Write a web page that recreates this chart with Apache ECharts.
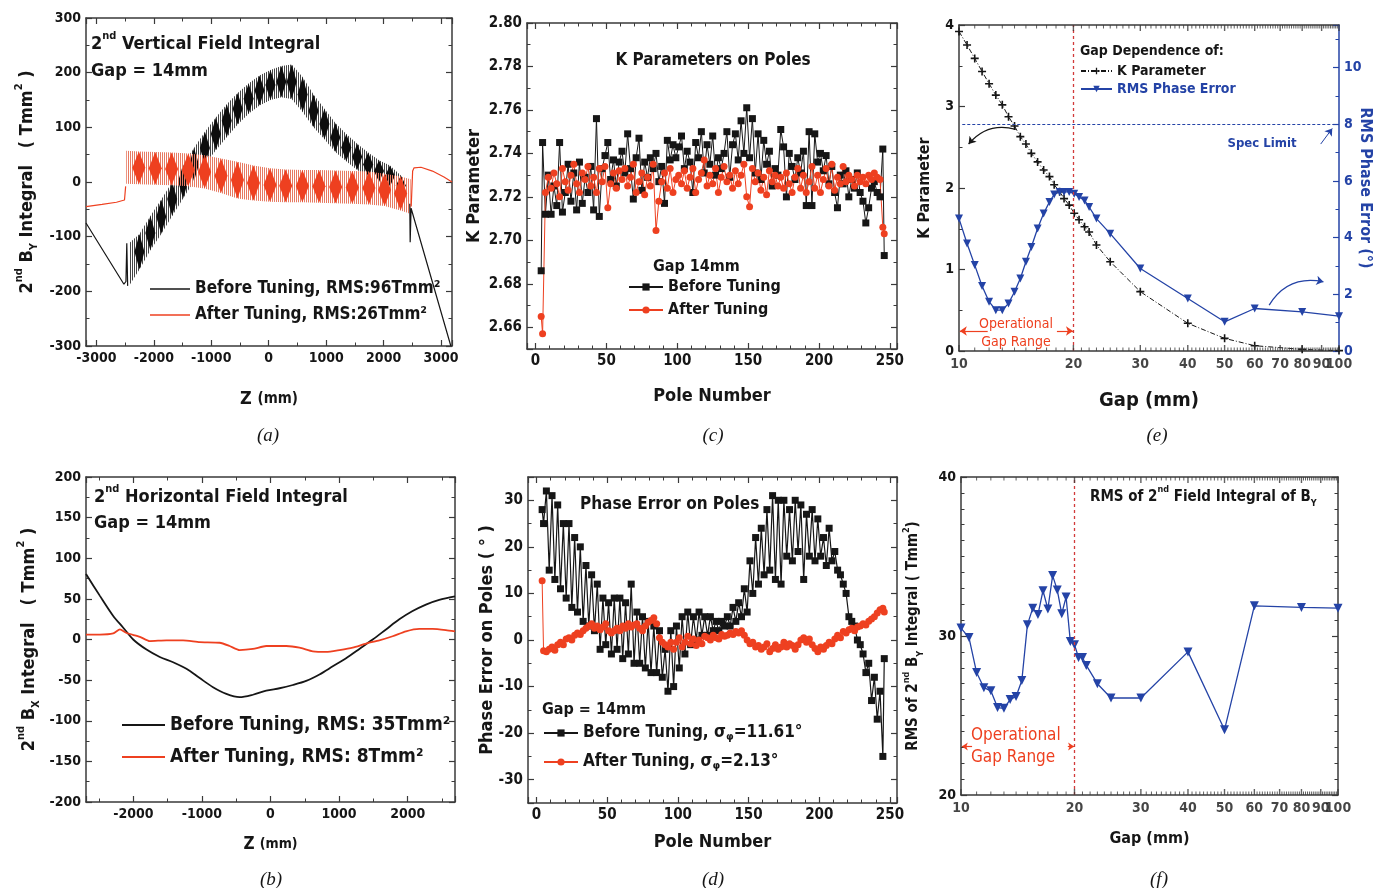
<!DOCTYPE html>
<html>
<head>
<meta charset="utf-8">
<script src="https://cdn.jsdelivr.net/npm/echarts@6.0.0/dist/echarts.min.js"></script>
<style>
html, body { margin: 0; padding: 0; background: #fff; }
#main { width: 1374px; height: 888px; }
</style>
</head>
<body>
<div id="main"></div>
<script>
// ---- (a) 2nd vertical field integral: thin end segments + oscillating bands [z, low, high]
var A_BEFORE_LEFT = [[-3180, -75], [-2520, -187], [-2485, -182], [-2470, -112], [-2455, -190]];
var A_BEFORE_RIGHT = [[2455, -40], [2462, -110], [2478, -48], [3170, -300]];
var A_AFTER_LEFT = [[-3180, -45], [-2900, -41], [-2650, -37], [-2510, -33], [-2490, -8]];
var A_AFTER_RIGHT = [[2480, -45], [2505, 20], [2530, 26], [2650, 27], [2850, 20], [3050, 9], [3190, 0]];
var A_BEFORE_BAND = [
  [-2430, -190, -112], [-2250, -160, -95], [-2060, -125, -62], [-1870, -95, -32], [-1680, -62, 0],
  [-1490, -30, 32], [-1300, 2, 62], [-1110, 32, 92], [-920, 58, 118], [-730, 82, 142],
  [-540, 105, 163], [-350, 125, 180], [-160, 140, 195], [30, 150, 205], [220, 155, 212],
  [400, 152, 215], [590, 128, 192], [780, 100, 160], [970, 78, 134], [1160, 55, 108],
  [1350, 38, 88], [1540, 22, 70], [1730, 10, 54], [1920, 0, 40], [2110, -8, 30],
  [2300, -25, 12], [2450, -60, -25]
];
var A_AFTER_BAND = [
  [-2480, -3, 57], [-2260, -4, 56], [-1975, -5, 55], [-1690, -6, 54], [-1400, -8, 52],
  [-1115, -12, 49], [-830, -20, 43], [-544, -30, 37], [-266, -34, 30], [23, -36, 25],
  [296, -37, 23], [586, -37, 22], [875, -38, 22], [1165, -39, 21], [1455, -40, 20],
  [1744, -41, 19], [2017, -44, 15], [2295, -52, 10], [2470, -58, 5]
];

// ---- (b) 2nd horizontal field integral
var B_Z = [-2690, -2487, -2293, -2147, -2002, -1808, -1614, -1420, -1226, -1032,
  -838, -644, -450, -256, -62, 132, 326, 520, 714, 908,
  1102, 1296, 1490, 1684, 1878, 2072, 2266, 2460, 2690];
var B_BEFORE = [80.6, 53.7, 29, 14.5, 0, -12.4, -21.5, -28, -36, -47.5,
  -58.7, -67, -71, -68, -63, -60, -56, -51, -43, -33,
  -23, -11.6, 0, 12.4, 24.8, 35, 43, 48.8, 53];
var B_Z2 = [-2690, -2487, -2293, -2195, -2099, -1905, -1760, -1517, -1275, -1032,
  -741, -596, -450, -256, -62, 229, 423, 617, 811, 1005,
  1199, 1393, 1587, 1781, 1975, 2169, 2363, 2557, 2690];
var B_AFTER = [6, 6, 7.4, 12.4, 8, 3.3, -2, -1, -1, -3.3,
  -4, -8, -13, -11.6, -8, -8, -10, -14.5, -15.3, -13,
  -10, -5, -1, 4, 10, 13, 13, 11.6, 10];

// ---- (c), (d) values per pole
var POLES = [4, 5, 7, 9, 11, 13, 15, 17, 19, 21,
  23, 25, 27, 29, 31, 33, 35, 37, 39, 41,
  43, 45, 47, 49, 51, 53, 55, 57, 59, 61,
  63, 65, 67, 69, 71, 73, 75, 77, 79, 81,
  83, 85, 87, 89, 91, 93, 95, 97, 99, 101,
  103, 105, 107, 109, 111, 113, 115, 117, 119, 121,
  123, 125, 127, 129, 131, 133, 135, 137, 139, 141,
  143, 145, 147, 149, 151, 153, 155, 157, 159, 161,
  163, 165, 167, 169, 171, 173, 175, 177, 179, 181,
  183, 185, 187, 189, 191, 193, 195, 197, 199, 201,
  203, 205, 207, 209, 211, 213, 215, 217, 219, 221,
  223, 225, 227, 229, 231, 233, 235, 237, 239, 241,
  243, 245, 246];
var K_BEFORE = [2.686, 2.745, 2.712, 2.730, 2.712, 2.725, 2.716, 2.745, 2.713, 2.722,
  2.735, 2.718, 2.731, 2.714, 2.736, 2.717, 2.729, 2.722, 2.734, 2.714,
  2.756, 2.711, 2.733, 2.739, 2.745, 2.728, 2.737, 2.725, 2.736, 2.741,
  2.731, 2.749, 2.733, 2.719, 2.738, 2.747, 2.723, 2.736, 2.729, 2.738,
  2.733, 2.740, 2.727, 2.734, 2.717, 2.746, 2.737, 2.744, 2.738, 2.743,
  2.748, 2.733, 2.741, 2.736, 2.722, 2.745, 2.738, 2.750, 2.731, 2.744,
  2.735, 2.748, 2.730, 2.738, 2.733, 2.740, 2.750, 2.729, 2.744, 2.749,
  2.737, 2.755, 2.740, 2.761, 2.738, 2.756, 2.731, 2.749, 2.728, 2.746,
  2.735, 2.741, 2.725, 2.733, 2.730, 2.751, 2.743, 2.720, 2.740, 2.734,
  2.728, 2.738, 2.731, 2.741, 2.716, 2.750, 2.716, 2.749, 2.736, 2.740,
  2.732, 2.739, 2.726, 2.734, 2.722, 2.715, 2.730, 2.726, 2.732, 2.720,
  2.728, 2.724, 2.731, 2.722, 2.718, 2.708, 2.715, 2.724, 2.727, 2.722,
  2.720, 2.742, 2.693];
var K_AFTER = [2.665, 2.657, 2.722, 2.729, 2.724, 2.731, 2.726, 2.720, 2.733, 2.727,
  2.723, 2.730, 2.735, 2.726, 2.722, 2.731, 2.728, 2.734, 2.725, 2.729,
  2.722, 2.733, 2.727, 2.734, 2.715, 2.726, 2.731, 2.724, 2.732, 2.728,
  2.733, 2.725, 2.729, 2.735, 2.722, 2.727, 2.731, 2.721, 2.729, 2.725,
  2.735, 2.7045, 2.718, 2.727, 2.731, 2.724, 2.733, 2.722, 2.728, 2.730,
  2.726, 2.732, 2.724, 2.729, 2.733, 2.722, 2.728, 2.731, 2.737, 2.725,
  2.730, 2.726, 2.733, 2.722, 2.729, 2.734, 2.727, 2.730, 2.724, 2.732,
  2.726, 2.730, 2.735, 2.720, 2.7155, 2.733, 2.727, 2.731, 2.723, 2.729,
  2.721, 2.732, 2.727, 2.730, 2.725, 2.729, 2.724, 2.731, 2.726, 2.722,
  2.729, 2.733, 2.724, 2.730, 2.722, 2.727, 2.734, 2.724, 2.730, 2.722,
  2.728, 2.733, 2.725, 2.735, 2.723, 2.729, 2.726, 2.734, 2.727, 2.730,
  2.728, 2.725, 2.730, 2.727, 2.729, 2.726, 2.730, 2.728, 2.731, 2.729,
  2.728, 2.706, 2.703];
var PH_BEFORE = [28, 25, 32, 15, 31, 13, 29, 11, 25, 9,
  25, 7, 22, 6, 20, 4, 16, 3, 14, 2,
  12, -2, 9, -1, 8, -3, 9, -2, 9, -4,
  8, -3, 12, -5, 6, -5, 5, -6, 4, -7,
  3, -7, 2, -8, -2, -11, 2, -10, 3, -6,
  5, -3, 6, -1, 5, 0, 6, 1, 5, 1,
  5, 2, 4, 2, 4, 3, 5, 3, 7, 4,
  8, 5, 11, 6, 17, 10, 22, 12, 24, 14,
  28, 15, 31, 13, 30, 12, 30, 18, 28, 17,
  30, 19, 29, 13, 27, 18, 28, 17, 26, 18,
  22, 16, 24, 17, 19, 15, 14, 12, 10, 5,
  4, 3, 0, -1, -3, -7, -5, -13, -8, -17,
  -11, -25, -4];
var PH_AFTER = [12.7, -2.3, -2.5, -2.0, -1.5, -2.2, -1.0, -0.5, -1.0, 0.2,
  0.5, 0.0, 1.0, 1.5, 1.2, 2.0, 2.5, 3.0, 3.5, 2.5,
  3.0, 2.2, 2.8, 3.5, 2.0, 1.5, 2.0, 2.5, 2.0, 3.0,
  2.5, 3.5, 2.8, 3.2, 3.5, 2.5, 2.0, 3.0, 3.8, 4.2,
  4.8, 3.5, 0.5, -0.5, -1.0, -1.5, -0.5, -2.0, -0.5, 0.5,
  -1.5, -0.5, 0.8, -0.8, 0.2, -1.2, 0.0, -0.8, 0.8, 0.5,
  0.0, 1.0, 0.5, 0.2, 1.2, 0.8, 1.0, 1.5, 1.2, 1.8,
  1.5, 2.0, 1.0, 0.0, -0.8, -0.5, -1.5, -1.2, -2.0, -1.5,
  -0.8, -2.5, -1.8, -1.0, -2.0, -1.5, -0.5, -1.5, -0.8, -1.2,
  -2.0, -1.0, 0.0, 0.5, -0.5, 0.2, -1.0, -1.8, -2.5, -1.5,
  -2.0, -1.2, -0.5, -0.8, 0.2, 1.0, 0.5, 1.8, 1.5, 2.2,
  2.5, 2.0, 2.8, 3.0, 3.5, 3.2, 4.0, 4.5, 5.0, 5.8,
  6.5, 6.8, 6.0];

// ---- (e) gap dependence
var GAP_E = [10, 10.5, 11, 11.5, 12, 12.5, 13, 13.5, 14, 14.5,
  15, 15.5, 16.1, 16.7, 17.3, 17.8, 18.4, 18.9, 19.5, 20.1,
  20.7, 21.4, 22, 23, 25, 30, 40, 50, 60, 80, 100];
var K_GAP = [3.92, 3.755, 3.59, 3.43, 3.28, 3.14, 3.02, 2.875, 2.76, 2.63,
  2.54, 2.425, 2.32, 2.22, 2.14, 2.04, 1.955, 1.87, 1.79, 1.69,
  1.61, 1.525, 1.46, 1.30, 1.096, 0.728, 0.34, 0.155, 0.065, 0.02, 0.005];
var PHASE_GAP = [4.67, 3.79, 3.03, 2.29, 1.74, 1.44, 1.44, 1.68, 2.09, 2.56,
  3.15, 3.67, 4.32, 4.85, 5.26, 5.52, 5.61, 5.61, 5.61, 5.55,
  5.43, 5.31, 5.08, 4.67, 4.14, 2.91, 1.85, 1.03, 1.50, 1.38, 1.23];

// ---- (f) RMS of 2nd field integral
var GAP_F = [10, 10.5, 11, 11.5, 12, 12.5, 13, 13.5, 14, 14.5,
  15, 15.5, 16, 16.5, 17, 17.5, 18, 18.5, 19, 19.5,
  20, 20.5, 21, 21.5, 23, 25, 30, 40, 50, 60, 80, 100];
var RMS_GAP = [30.5, 29.9, 27.7, 26.75, 26.55, 25.5, 25.45, 26.0, 26.2, 27.2,
  30.7, 31.75, 31.35, 32.85, 31.7, 33.8, 32.9, 31.4, 32.45, 29.65,
  29.45, 28.65, 28.65, 28.15, 27.0, 26.1, 26.1, 29.0, 24.1, 31.9, 31.8, 31.75];

var GAP_TICKS = [10, 20, 30, 40, 50, 60, 70, 80, 90, 100];
var GAP_MINOR = [];
for (var g = 11; g < 100; g++) { if (g % 10) GAP_MINOR.push(g); }

// ---- styling
var FF = "'Liberation Sans Narrow','DejaVu Sans Condensed','Liberation Sans',Arial,sans-serif";
var INK = '#161616', AX = '#3a3a3a', RED = '#ee4020', BLUE = '#2443a6', RED_DASH = '#d23a3a';

var A1 = 'Before Tuning, RMS:96Tmm\u00b2', A2 = 'After Tuning, RMS:26Tmm\u00b2';
var B1 = 'Before Tuning, RMS: 35Tmm\u00b2', B2 = 'After Tuning, RMS: 8Tmm\u00b2';
var C1 = 'Before Tuning', C2 = 'After Tuning';
var D1 = 'Before Tuning, sigma 11.61', D2 = 'After Tuning, sigma 2.13';
var E1 = 'K Parameter', E2 = 'RMS Phase Error';

function pairs(xs, ys) { return xs.map(function (x, i) { return [x, ys[i]]; }); }
function plain(v) { return String(v); }

function richSet(size, color) {
  var c = color || INK, sm = Math.round(size * 0.62);
  return {
    n: {fontSize: size, fontWeight: 'bold', fontFamily: FF, color: c, fill: c, lineHeight: size + 8},
    m: {fontSize: Math.round(size * 0.82), fontWeight: 'bold', fontFamily: FF, color: c, fill: c},
    s: {fontSize: sm, fontWeight: 'bold', fontFamily: FF, color: c, fill: c, verticalAlign: 'top'},
    b: {fontSize: sm, fontWeight: 'bold', fontFamily: FF, color: c, fill: c, verticalAlign: 'bottom'}
  };
}
function nameStyle(size, color) {
  return {fontFamily: FF, fontWeight: 'bold', fontSize: size, color: color || INK, rich: richSet(size, color)};
}

var xAxes = [], yAxes = [], series = [];
function axis(gi, pos, o) {
  var c = o.color || AX;
  return {
    type: o.type || 'value', gridIndex: gi, position: pos, logBase: o.logBase,
    min: o.min, max: o.max, interval: o.interval, splitNumber: o.splitNumber,
    axisLine: {show: true, onZero: false, lineStyle: {color: c, width: 1.5}},
    axisTick: {show: o.ticks !== false, inside: true, length: 6, lineStyle: {color: c, width: 1.2}},
    minorTick: {show: !!o.minor, splitNumber: o.minor || 5, length: 3.5, lineStyle: {color: c, width: 1}},
    splitLine: {show: false},
    axisLabel: {show: !!o.labels, color: o.labelColor || INK, fontFamily: FF, fontWeight: 'bold',
      fontSize: o.fontSize || 14, margin: 5, formatter: o.fmt || plain, showMinLabel: o.showMin, showMaxLabel: o.showMax},
    name: o.name, nameLocation: 'middle', nameGap: o.nameGap, nameRotate: o.nameRotate,
    nameTextStyle: o.nameStyle, nameMoveOverlap: false
  };
}
function addX(gi, o) {
  var i = xAxes.length;
  xAxes.push(axis(gi, 'bottom', Object.assign({labels: true}, o)));
  xAxes.push(axis(gi, 'top', Object.assign({}, o, {labels: false, name: null})));
  return i;
}
function addY(gi, o, noMirror) {
  var i = yAxes.length;
  yAxes.push(axis(gi, 'left', Object.assign({labels: true}, o)));
  if (!noMirror) yAxes.push(axis(gi, 'right', Object.assign({}, o, {labels: false, name: null})));
  return i;
}

// vertical hatch (1px line, 1px gap) used for the dense oscillation bands
function stripes(color) {
  var cv = document.createElement('canvas');
  cv.width = 2; cv.height = 2;
  var cx = cv.getContext('2d');
  cx.fillStyle = color; cx.fillRect(0, 0, 1, 2);
  return {image: cv, repeat: 'repeat'};
}
function bandRender(rows, fill) {
  return function (params, api) {
    if (params.dataIndex !== 0) return null;
    var pts = [], i;
    for (i = 0; i < rows.length; i++) pts.push(api.coord([rows[i][0], rows[i][2]]));
    for (i = rows.length - 1; i >= 0; i--) pts.push(api.coord([rows[i][0], rows[i][1]]));
    return {type: 'polygon', shape: {points: pts}, style: {fill: fill}};
  };
}
function custom(name, xi, yi, rows, render, z) {
  return {type: 'custom', name: name, xAxisIndex: xi, yAxisIndex: yi, silent: true, z: z,
    data: rows.map(function (r) { return r.slice(); }),
    encode: {x: 0, y: [1, 2]}, renderItem: render};
}
// solid beat "diamonds": centred in the band, as tall as the band at that z
var A_PX_PER_UNIT = 328 / 600;
function diamonds(name, xi, yi, rows, color, width, z) {
  var inner = rows.slice(1, rows.length - 1);
  return {type: 'scatter', name: name, xAxisIndex: xi, yAxisIndex: yi, silent: true, z: z,
    symbol: 'diamond', itemStyle: {color: color, opacity: 1},
    symbolSize: function (v) { return [width, v[2] * A_PX_PER_UNIT]; },
    data: inner.map(function (r) { return [r[0], (r[1] + r[2]) / 2, r[2] - r[1]]; })};
}
function thin(name, xi, yi, data, color, width) {
  return {type: 'line', name: name, xAxisIndex: xi, yAxisIndex: yi, data: data, symbol: 'none', z: 8,
    lineStyle: {color: color, width: width}, itemStyle: {color: color}, silent: true};
}
function curvedArrow(name, xi, yi, color, width, curveness, coords) {
  return {type: 'lines', name: name, coordinateSystem: 'cartesian2d', xAxisIndex: xi, yAxisIndex: yi,
    silent: true, symbol: ['none', 'arrow'], symbolSize: 7, z: 7,
    lineStyle: {color: color, width: width, curveness: curveness, opacity: 1},
    data: [{coords: coords}]};
}
function logTicks(xi, yi, y0, y1) {
  var base = {type: 'scatter', xAxisIndex: xi, yAxisIndex: yi, silent: true, clip: false,
    symbol: 'rect', itemStyle: {color: AX}, z: 5};
  return [
    Object.assign({}, base, {name: 'tick-' + xi + '-a', symbolSize: [1.4, 6], symbolOffset: [0, -3],
      data: GAP_TICKS.map(function (t) { return [t, y0]; }),
      label: {show: true, position: 'bottom', distance: 6, color: INK, fontFamily: FF, fontWeight: 'bold', fontSize: 14,
        formatter: function (p) { return String(p.value[0]); }}}),
    Object.assign({}, base, {name: 'tick-' + xi + '-b', symbolSize: [1.4, 6], symbolOffset: [0, 3],
      data: GAP_TICKS.map(function (t) { return [t, y1]; })}),
    Object.assign({}, base, {name: 'tick-' + xi + '-c', symbolSize: [1, 3.5], symbolOffset: [0, -1.75],
      data: GAP_MINOR.map(function (t) { return [t, y0]; })}),
    Object.assign({}, base, {name: 'tick-' + xi + '-d', symbolSize: [1, 3.5], symbolOffset: [0, 1.75],
      data: GAP_MINOR.map(function (t) { return [t, y1]; })})
  ];
}

var GRIDS = [
  {left: 86, top: 18, width: 366, height: 328},
  {left: 527, top: 23, width: 370, height: 326},
  {left: 959, top: 25, width: 380, height: 326},
  {left: 86, top: 477, width: 369, height: 325},
  {left: 528, top: 477, width: 369, height: 326},
  {left: 961, top: 477, width: 377, height: 318}
];

// axes
var xa = addX(0, {min: -3180, max: 3190, splitNumber: 6, minor: 2, showMin: false, showMax: false,
  name: '{n|Z} {m|(mm)}', nameGap: 40, nameStyle: nameStyle(18)});
var ya = addY(0, {min: -300, max: 300, interval: 100, minor: 2,
  name: '{n|2}{s|nd}{n| B}{b|Y}{n| Integral   ( Tmm}{s|2}{n| )}', nameGap: 46, nameStyle: nameStyle(18)});
var xc = addX(1, {min: -6, max: 255, splitNumber: 5, minor: 5, showMin: false, showMax: false, fontSize: 15,
  name: 'Pole Number', nameGap: 38, nameStyle: nameStyle(18)});
var yc = addY(1, {min: 2.65, max: 2.80, splitNumber: 7, minor: 2, showMin: false, fontSize: 15,
  fmt: function (v) { return v.toFixed(2); }, name: 'K Parameter', nameGap: 44, nameStyle: nameStyle(18)});
var xe = addX(2, {type: 'log', logBase: 10, min: 10, max: 100, ticks: false, labels: false,
  name: 'Gap (mm)', nameGap: 40, nameStyle: nameStyle(20)});
var ye = addY(2, {min: 0, max: 4, interval: 1, minor: 2, name: 'K Parameter', nameGap: 26, nameStyle: nameStyle(16)}, true);
var ye2 = yAxes.length;
yAxes.push(axis(2, 'right', {min: 0, max: 11.5, interval: 2, minor: 2, color: BLUE, labels: true, labelColor: BLUE,
  showMax: false, name: 'RMS Phase Error (\u00b0)', nameRotate: -90, nameGap: 18, nameStyle: nameStyle(16, BLUE)}));
var xb = addX(3, {min: -2690, max: 2690, splitNumber: 5, minor: 2, showMin: false, showMax: false,
  name: '{n|Z} {m|(mm)}', nameGap: 30, nameStyle: nameStyle(17)});
var yb = addY(3, {min: -200, max: 200, interval: 50, minor: 2,
  name: '{n|2}{s|nd}{n| B}{b|X}{n| Integral   ( Tmm}{s|2}{n| )}', nameGap: 44, nameStyle: nameStyle(18)});
var xd = addX(4, {min: -6, max: 255, splitNumber: 5, minor: 5, showMin: false, showMax: false, fontSize: 15,
  name: 'Pole Number', nameGap: 30, nameStyle: nameStyle(18)});
var yd = addY(4, {min: -35, max: 35, splitNumber: 7, minor: 2, showMin: false, showMax: false, fontSize: 15,
  name: 'Phase Error on Poles ( \u00b0 )', nameGap: 32, nameStyle: nameStyle(18)});
var xf = addX(5, {type: 'log', logBase: 10, min: 10, max: 100, ticks: false, labels: false,
  name: 'Gap (mm)', nameGap: 36, nameStyle: nameStyle(16)});
var yf = addY(5, {min: 20, max: 40, interval: 10, minor: 10,
  name: '{n|RMS of 2}{s|nd}{n| B}{b|Y}{n| Integral ( Tmm}{s|2}{n|)}', nameGap: 36, nameStyle: nameStyle(15)});

// (a): black band first, red band drawn over it
series.push(custom('a-before-band', xa, ya, A_BEFORE_BAND, bandRender(A_BEFORE_BAND, stripes('#444444')), 2));
series.push(diamonds('a-before-diamond', xa, ya, A_BEFORE_BAND, '#0d0d0d', 10, 3));
series.push(custom('a-after-band', xa, ya, A_AFTER_BAND, bandRender(A_AFTER_BAND, stripes('#e77a62')), 4));
series.push(diamonds('a-after-diamond', xa, ya, A_AFTER_BAND, RED, 13, 5));
series.push(thin(A1, xa, ya, A_BEFORE_LEFT, INK, 1.2));
series.push(thin(A1, xa, ya, A_BEFORE_RIGHT, INK, 1.2));
series.push(thin(A2, xa, ya, A_AFTER_LEFT, RED, 1.2));
series.push(thin(A2, xa, ya, A_AFTER_RIGHT, RED, 1.2));

// (b)
series.push(Object.assign(thin(B1, xb, yb, pairs(B_Z, B_BEFORE), INK, 1.8), {smooth: 0.3}));
series.push(Object.assign(thin(B2, xb, yb, pairs(B_Z2, B_AFTER), RED, 1.8), {smooth: 0.2}));

// (c)
series.push({type: 'line', name: C1, xAxisIndex: xc, yAxisIndex: yc, data: pairs(POLES, K_BEFORE),
  symbol: 'rect', symbolSize: 7, lineStyle: {color: INK, width: 1}, itemStyle: {color: INK}, silent: true});
series.push({type: 'line', name: C2, xAxisIndex: xc, yAxisIndex: yc, data: pairs(POLES, K_AFTER),
  symbol: 'circle', symbolSize: 7, lineStyle: {color: RED, width: 1}, itemStyle: {color: RED}, silent: true});

// (d)
series.push({type: 'line', name: D1, xAxisIndex: xd, yAxisIndex: yd, data: pairs(POLES, PH_BEFORE),
  symbol: 'rect', symbolSize: 7, lineStyle: {color: INK, width: 1.2}, itemStyle: {color: INK}, silent: true});
series.push({type: 'line', name: D2, xAxisIndex: xd, yAxisIndex: yd, data: pairs(POLES, PH_AFTER),
  symbol: 'circle', symbolSize: 7, lineStyle: {color: RED, width: 1}, itemStyle: {color: RED}, silent: true});

// (e)
series.push({type: 'line', name: E1, xAxisIndex: xe, yAxisIndex: ye, data: pairs(GAP_E, K_GAP),
  symbol: 'path://M4,0H6V4H10V6H6V10H4V6H0V4H4Z', symbolSize: 8,
  lineStyle: {color: INK, width: 1, type: [5, 2, 1, 2]}, itemStyle: {color: INK}, silent: true,
  markLine: {silent: true, symbol: ['none', 'arrow'], symbolSize: 7, label: {show: false},
    data: [
      [{coord: [20, 0], symbol: 'none', lineStyle: {color: RED_DASH, type: [3, 3], width: 1.3}}, {coord: [20, 4], symbol: 'none'}],
      [{coord: [11.9, 0.245], lineStyle: {color: RED, width: 1.2, type: 'solid'}}, {coord: [10.05, 0.245]}],
      [{coord: [18.1, 0.245], lineStyle: {color: RED, width: 1.2, type: 'solid'}}, {coord: [19.95, 0.245]}]
    ]}});
series.push({type: 'line', name: E2, xAxisIndex: xe, yAxisIndex: ye2, data: pairs(GAP_E, PHASE_GAP),
  symbol: 'triangle', symbolRotate: 180, symbolSize: 8,
  lineStyle: {color: BLUE, width: 1.3}, itemStyle: {color: BLUE}, silent: true,
  markLine: {silent: true, symbol: ['none', 'arrow'], symbolSize: 7, label: {show: false},
    data: [
      [{coord: [10.2, 8], symbol: 'none', lineStyle: {color: BLUE, type: [3, 2], width: 1.2}}, {coord: [97, 8], symbol: 'none'}],
      [{coord: [89.5, 7.3], lineStyle: {color: BLUE, width: 1, type: 'solid'}}, {coord: [96, 7.85]}]
    ]}});
series.push(curvedArrow('e-arrow-k', xe, ye, INK, 1.2, -0.32, [[14.1, 2.72], [10.6, 2.54]]));
series.push(curvedArrow('e-arrow-phase', xe, ye2, BLUE, 1.3, 0.35, [[65.5, 1.62], [91, 2.44]]));
series = series.concat(logTicks(xe, ye, 0, 4));

// (f)
series.push({type: 'line', name: 'f-rms', xAxisIndex: xf, yAxisIndex: yf, data: pairs(GAP_F, RMS_GAP),
  symbol: 'triangle', symbolRotate: 180, symbolSize: 9,
  lineStyle: {color: BLUE, width: 1.3}, itemStyle: {color: BLUE}, silent: true,
  markLine: {silent: true, symbol: ['none', 'arrow'], symbolSize: 6, label: {show: false},
    data: [
      [{coord: [20, 20], symbol: 'none', lineStyle: {color: RED_DASH, type: [3, 3], width: 1.3}}, {coord: [20, 40], symbol: 'none'}],
      [{coord: [10.7, 23.05], lineStyle: {color: RED, width: 1.2, type: 'solid'}}, {coord: [10.05, 23.05]}],
      [{coord: [19.2, 23.05], lineStyle: {color: RED, width: 1.2, type: 'solid'}}, {coord: [19.95, 23.05]}]
    ]}});
series = series.concat(logTicks(xf, yf, 20, 40));

function legendAt(left, top, names, o) {
  return Object.assign({left: left, top: top, orient: 'vertical', padding: 0, selectedMode: false,
    data: names, itemWidth: 40, itemHeight: 10, itemGap: 6,
    textStyle: {fontFamily: FF, fontWeight: 'bold', fontSize: 17, color: INK, lineHeight: 20}}, o);
}

function txt(x, y, text, size, o) {
  o = o || {};
  var c = o.color || INK;
  var font = (o.italic ? 'italic ' : '') + (o.bold === false ? 'normal ' : 'bold ') + size + 'px ' + (o.family || FF);
  return {type: 'text', x: x, y: y, silent: true, z: 100,
    style: {text: text, font: font, fill: c, textAlign: o.align || 'left', align: o.align || 'left',
      textVerticalAlign: 'middle', verticalAlign: 'middle', rich: richSet(size, c)}};
}
var SERIF = "'Liberation Serif','DejaVu Serif',serif";

var option = {
  backgroundColor: '#ffffff',
  animation: false,
  textStyle: {fontFamily: FF},
  grid: GRIDS.map(function (g) { return Object.assign({outerBoundsMode: 'none', containLabel: false}, g); }),
  xAxis: xAxes,
  yAxis: yAxes,
  legend: [
    legendAt(150, 279, [A1, A2], {icon: 'rect', itemHeight: 1.5}),
    legendAt(122, 714, [B1, B2], {icon: 'rect', itemHeight: 2, itemWidth: 43, itemGap: 10,
      textStyle: {fontFamily: FF, fontWeight: 'bold', fontSize: 19, color: INK, lineHeight: 22}}),
    legendAt(628, 278, [C1, C2], {itemWidth: 34, itemHeight: 9, itemGap: 5,
      textStyle: {fontFamily: FF, fontWeight: 'bold', fontSize: 16, color: INK, lineHeight: 18}}),
    legendAt(543, 723, [D1, D2], {itemWidth: 34, itemHeight: 9, itemGap: 9,
      formatter: function (name) { return name === D1 ? 'Before Tuning, \u03c3{b|\u03c6}=11.61\u00b0' : 'After Tuning, \u03c3{b|\u03c6}=2.13\u00b0'; },
      textStyle: {fontFamily: FF, fontWeight: 'bold', fontSize: 17, color: INK, lineHeight: 20, rich: richSet(17)}}),
    legendAt(1080, 63, [{name: E1}, {name: E2, textStyle: {color: BLUE}}], {itemWidth: 31, itemHeight: 8, itemGap: 2,
      textStyle: {fontFamily: FF, fontWeight: 'bold', fontSize: 14, color: INK, lineHeight: 16}})
  ],
  graphic: [
    txt(91, 44, '{n|2}{s|nd}{n| Vertical Field Integral}', 18),
    txt(91, 71, 'Gap = 14mm', 18),
    txt(94, 497, '{n|2}{s|nd}{n| Horizontal Field Integral}', 18),
    txt(94, 523, 'Gap = 14mm', 18),
    txt(713, 61, 'K Parameters on Poles', 17, {align: 'center'}),
    txt(653, 267, 'Gap 14mm', 16),
    txt(580, 505, 'Phase Error on Poles', 17),
    txt(542, 710, 'Gap = 14mm', 16),
    txt(1080, 51, 'Gap Dependence of:', 14),
    txt(1262, 144, 'Spec Limit', 13, {color: BLUE, align: 'center'}),
    txt(1016, 324, 'Operational', 14, {color: RED, align: 'center', bold: false}),
    txt(1016, 342, 'Gap Range', 14, {color: RED, align: 'center', bold: false}),
    txt(1090, 497, '{n|RMS of 2}{s|nd}{n| Field Integral of B}{b|Y}', 15),
    txt(971, 736, 'Operational', 17, {color: RED, bold: false}),
    txt(971, 758, 'Gap Range', 17, {color: RED, bold: false}),
    txt(268, 436, '(a)', 19, {italic: true, bold: false, family: SERIF, align: 'center'}),
    txt(713, 436, '(c)', 19, {italic: true, bold: false, family: SERIF, align: 'center'}),
    txt(1157, 436, '(e)', 19, {italic: true, bold: false, family: SERIF, align: 'center'}),
    txt(271, 880, '(b)', 19, {italic: true, bold: false, family: SERIF, align: 'center'}),
    txt(713, 880, '(d)', 19, {italic: true, bold: false, family: SERIF, align: 'center'}),
    txt(1159, 880, '(f)', 19, {italic: true, bold: false, family: SERIF, align: 'center'})
  ],
  series: series
};

var chart = echarts.init(document.getElementById('main'));
if (option && typeof option === 'object') {
  chart.setOption(option, true);
}
</script>
</body>
</html>
